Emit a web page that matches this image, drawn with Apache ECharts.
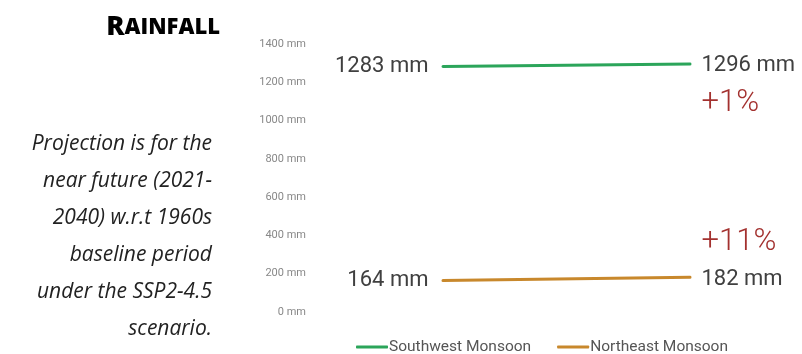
<!DOCTYPE html>
<html>
<head>
<meta charset="utf-8">
<title>Rainfall</title>
<script src="https://cdn.jsdelivr.net/npm/echarts@6/dist/echarts.min.js"></script>
<style>
  html, body { margin: 0; padding: 0; background: #fff; }
  #chart { width: 802px; height: 354px; }
</style>
</head>
<body>
<div id="chart"></div>
<script>
// Periods compared: baseline and near-future projection
const periods = ['1960s baseline', '2021-2040'];
const seriesNames = ['Southwest Monsoon', 'Northeast Monsoon'];
const southwestValues = [1283, 1296];
const northeastValues = [164, 182];
const seriesColors = ['#2ba55a', '#c8882c'];
const yTicks = { min: 0, max: 1400, interval: 200 };
const noteLines = [
  'Projection is for the',
  'near future (2021-',
  '2040) w.r.t 1960s',
  'baseline period',
  'under the SSP2-4.5',
  'scenario.'
];

function pctChange(vals) {
  const p = Math.round((vals[1] - vals[0]) / vals[0] * 100);
  return (p >= 0 ? '+' : '') + p + '%';
}

const chart = echarts.init(document.getElementById('chart'));

const valueRich = {
  v: { fontFamily: 'Roboto', fontSize: 22, color: '#404040', lineHeight: 37 },
  p: { fontFamily: 'Roboto', fontWeight: 300, fontSize: 31, color: '#a3312f', lineHeight: 37 }
};

function makeSeries(name, vals, color, pctBelow) {
  const pct = pctChange(vals);
  return {
    name: name,
    type: 'line',
    data: vals,
    symbol: 'circle',
    symbolSize: 1,
    itemStyle: { color: color },
    lineStyle: { color: color, width: 3, cap: 'round' },
    emphasis: { disabled: true },
    label: {
      show: true,
      rich: valueRich,
      formatter: function (p) {
        if (p.dataIndex === 0) return '{v|' + p.value + ' mm}';
        return pctBelow
          ? '{v|' + p.value + ' mm}\n{p|' + pct + '}'
          : '{p|' + pct + '}\n{v|' + p.value + ' mm}';
      },
      position: 'right'
    },
    labelLayout: function (params) {
      if (params.dataIndex === 0) {
        return { x: params.rect.x - 14, align: 'right', verticalAlign: 'middle' };
      }
      return {
        x: params.rect.x + 12,
        y: params.rect.y + (pctBelow ? 21 : -16),
        align: 'left',
        verticalAlign: 'middle'
      };
    }
  };
}

chart.setOption({
  animation: false,
  grid: { left: 443, right: 112, top: 44, bottom: 42 },
  xAxis: {
    type: 'category',
    data: periods,
    boundaryGap: false,
    show: false
  },
  yAxis: {
    type: 'value',
    min: yTicks.min,
    max: yTicks.max,
    interval: yTicks.interval,
    axisLine: { show: false },
    axisTick: { show: false },
    splitLine: { show: false },
    axisLabel: {
      margin: 137,
      fontFamily: 'Roboto',
      fontSize: 11,
      color: '#888888',
      formatter: function (v) { return v + ' mm'; }
    }
  },
  legend: {
    data: seriesNames,
    left: 351,
    top: 334,
    icon: 'roundRect',
    itemWidth: 32,
    itemHeight: 3,
    itemGap: 26,
    textStyle: { fontFamily: 'Roboto', fontSize: 15.5, color: '#555555', padding: [0, 0, 0, -4] }
  },
  graphic: [
    {
      type: 'text',
      right: 802 - 220,
      top: 14,
      style: {
        text: '{a|R}{b|AINFALL}',
        rich: {
          a: { fontFamily: 'Open Sans', fontWeight: 800, fontSize: 27, color: '#111' },
          b: { fontFamily: 'Open Sans', fontWeight: 800, fontSize: 22, color: '#111' }
        }
      }
    },
    {
      type: 'text',
      x: 212,
      y: 126,
      style: {
        text: noteLines.join('\n'),
        align: 'right',
        fontFamily: 'Open Sans',
        fontStyle: 'italic',
        fontSize: 21,
        lineHeight: 37,
        fill: '#222'
      }
    }
  ],
  series: [
    makeSeries(seriesNames[0], southwestValues, seriesColors[0], true),
    makeSeries(seriesNames[1], northeastValues, seriesColors[1], false)
  ]
});
</script>
</body>
</html>
